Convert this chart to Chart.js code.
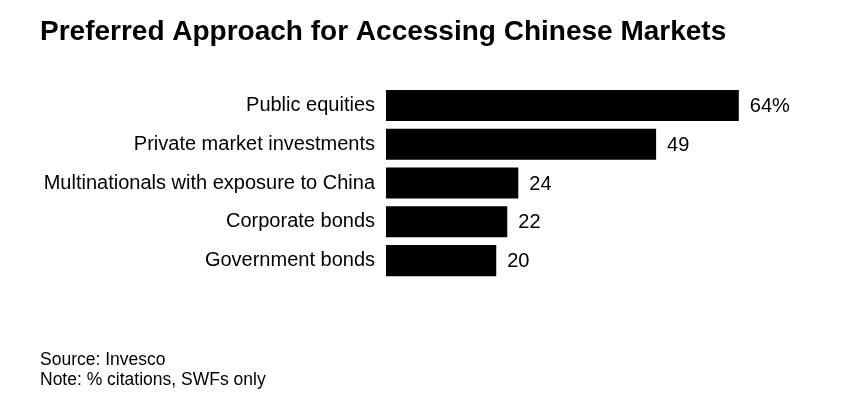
<!DOCTYPE html>
<html>
<head>
<meta charset="utf-8">
<script src="https://cdn.jsdelivr.net/npm/chart.js@4/dist/chart.umd.min.js"></script>
<style>
  html, body { margin: 0; padding: 0; background: #fff; }
  #wrap { width: 852px; height: 408px; }
</style>
</head>
<body>
<div id="wrap"><canvas id="chart" width="852" height="408"></canvas></div>
<script>
var categories = [
  'Public equities',
  'Private market investments',
  'Multinationals with exposure to China',
  'Corporate bonds',
  'Government bonds'
];
var values = [64, 49, 24, 22, 20];
var valueLabels = ['64%', '49', '24', '22', '20'];

var FONT = '"Liberation Sans", Arial, Helvetica, sans-serif';

// writes the number just past the end of each bar
var barValues = {
  id: 'barValues',
  afterDatasetsDraw: function (chart) {
    var ctx = chart.ctx;
    var meta = chart.getDatasetMeta(0);
    ctx.save();
    ctx.font = '20px ' + FONT;
    ctx.fillStyle = '#000';
    ctx.textAlign = 'left';
    ctx.textBaseline = 'middle';
    meta.data.forEach(function (bar, i) {
      ctx.fillText(valueLabels[i], bar.x + 11, bar.y + 1);
    });
    ctx.restore();
  }
};

var ctx = document.getElementById('chart').getContext('2d');
var chart = new Chart(ctx, {
  type: 'bar',
  data: {
    labels: categories,
    datasets: [{
      data: values,
      backgroundColor: '#000',
      borderWidth: 0,
      barPercentage: 0.8,
      categoryPercentage: 1.0
    }]
  },
  options: {
    indexAxis: 'y',
    responsive: false,
    animation: false,
    devicePixelRatio: 1,
    layout: { padding: { left: 40, right: 25, top: 0, bottom: 0 } },
    scales: {
      x: { display: false, min: 0, max: 80 },
      y: {
        grid: { display: false, drawTicks: false },
        border: { display: false },
        ticks: {
          color: '#000',
          padding: 11,
          font: { family: FONT, size: 20 }
        },
        afterFit: function (scale) { scale.width = 346; }
      }
    },
    plugins: {
      legend: { display: false },
      tooltip: { enabled: false },
      title: {
        display: true,
        text: 'Preferred Approach for Accessing Chinese Markets',
        align: 'start',
        color: '#000',
        font: { family: FONT, size: 28, weight: 'bold', lineHeight: 1.2 },
        padding: { top: 15.2, bottom: 37.2 }
      },
      subtitle: {
        display: true,
        position: 'bottom',
        align: 'start',
        text: ['Source: Invesco', 'Note: % citations, SWFs only'],
        color: '#000',
        font: { family: FONT, size: 17.5, lineHeight: 1.114 },
        padding: { top: 70.75, bottom: 18.25 }
      }
    }
  },
  plugins: [barValues]
});
</script>
</body>
</html>
